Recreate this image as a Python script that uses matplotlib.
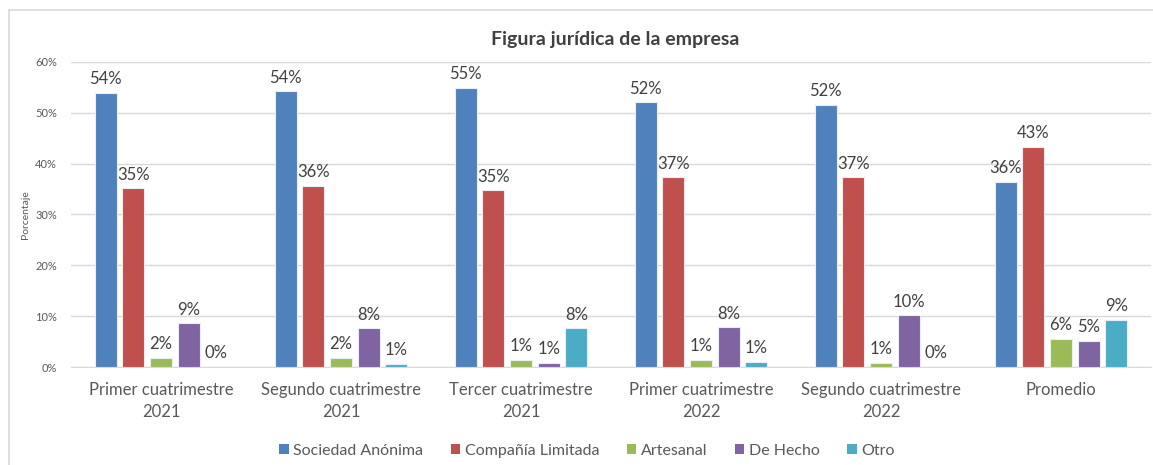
import numpy as np
import matplotlib
matplotlib.use("Agg")
import matplotlib.pyplot as plt
from matplotlib.patches import Patch, Rectangle
from matplotlib.ticker import PercentFormatter, MultipleLocator

plt.rcParams["font.family"] = ["Lato", "DejaVu Sans"]

# Data (percent)
categories = [
    "Primer cuatrimestre\n2021",
    "Segundo cuatrimestre\n2021",
    "Tercer cuatrimestre\n2021",
    "Primer cuatrimestre\n2022",
    "Segundo cuatrimestre\n2022",
    "Promedio",
]
series_names = ["Sociedad Anónima", "Compañía Limitada", "Artesanal", "De Hecho", "Otro"]
sociedad_anonima = [53.9, 54.2, 54.9, 52.1, 51.6, 36.4]
compania_limitada = [35.2, 35.6, 34.8, 37.3, 37.3, 43.3]
artesanal = [1.8, 1.8, 1.4, 1.4, 0.85, 5.6]
de_hecho = [8.6, 7.6, 0.85, 7.8, 10.2, 5.2]
otro = [0.0, 0.6, 7.6, 1.0, 0.0, 9.3]

colors = ["#4F81BD", "#C0504D", "#9BBB59", "#8064A2", "#4BACC6"]
all_series = [sociedad_anonima, compania_limitada, artesanal, de_hecho, otro]

W, H = 1153, 465
fig = plt.figure(figsize=(W / 100, H / 100), dpi=100)
ax = fig.add_axes([71 / W, (H - 367) / H, 1080 / W, 305 / H])

# outer chart border (only left/top visible in the crop)
fig.patches.append(Rectangle((9 / W, -0.05), 1.1, (H - 10) / H + 0.05,
                             transform=fig.transFigure, fill=False,
                             edgecolor="#D9D9D9", linewidth=1.2))

x = np.arange(len(categories))
step = 0.154
width = 0.122
text_color = "#404040"
for i, (name, vals, col) in enumerate(zip(series_names, all_series, colors)):
    pos = x + (i - 2) * step
    bars = ax.bar(pos, vals, width, color=col, edgecolor="#E8EEF6", linewidth=0.8,
                  label=name, zorder=3)
    ax.bar_label(bars, labels=[f"{round(v):.0f}%" for v in vals], padding=4,
                 fontsize=12, color=text_color)

ax.set_xlim(-0.5, len(categories) - 0.5)
ax.set_ylim(0, 60)
ax.yaxis.set_major_locator(MultipleLocator(10))
ax.yaxis.set_major_formatter(PercentFormatter(decimals=0))
ax.grid(axis="y", color="#D9D9D9", linewidth=1, zorder=0)
for s in ["top", "right", "left"]:
    ax.spines[s].set_visible(False)
ax.spines["bottom"].set_color("#D9D9D9")
ax.tick_params(axis="y", length=0, labelsize=8, labelcolor="#595959", pad=10)
ax.tick_params(axis="x", length=0, labelsize=12, labelcolor="#595959", pad=11)
ax.set_xticks(x)
ax.set_xticklabels(categories, linespacing=1.45)
ax.set_ylabel("Porcentaje", fontsize=7.5, color="#595959", labelpad=4)

fig.text(615 / W, 1 - 40 / H, "Figura jurídica de la empresa", ha="center",
         va="center", fontsize=14, fontweight="bold", color=text_color)

handles = [Patch(facecolor=c, edgecolor="none") for c in colors]
fig.legend(handles, series_names, loc="center", bbox_to_anchor=(587 / W, 1 - 451 / H),
           ncol=5, frameon=False, fontsize=11.5, labelcolor="#595959",
           handlelength=0.6, handleheight=0.6, handletextpad=0.3, columnspacing=1.7)

fig.savefig("out.png", dpi=100, facecolor="white")
